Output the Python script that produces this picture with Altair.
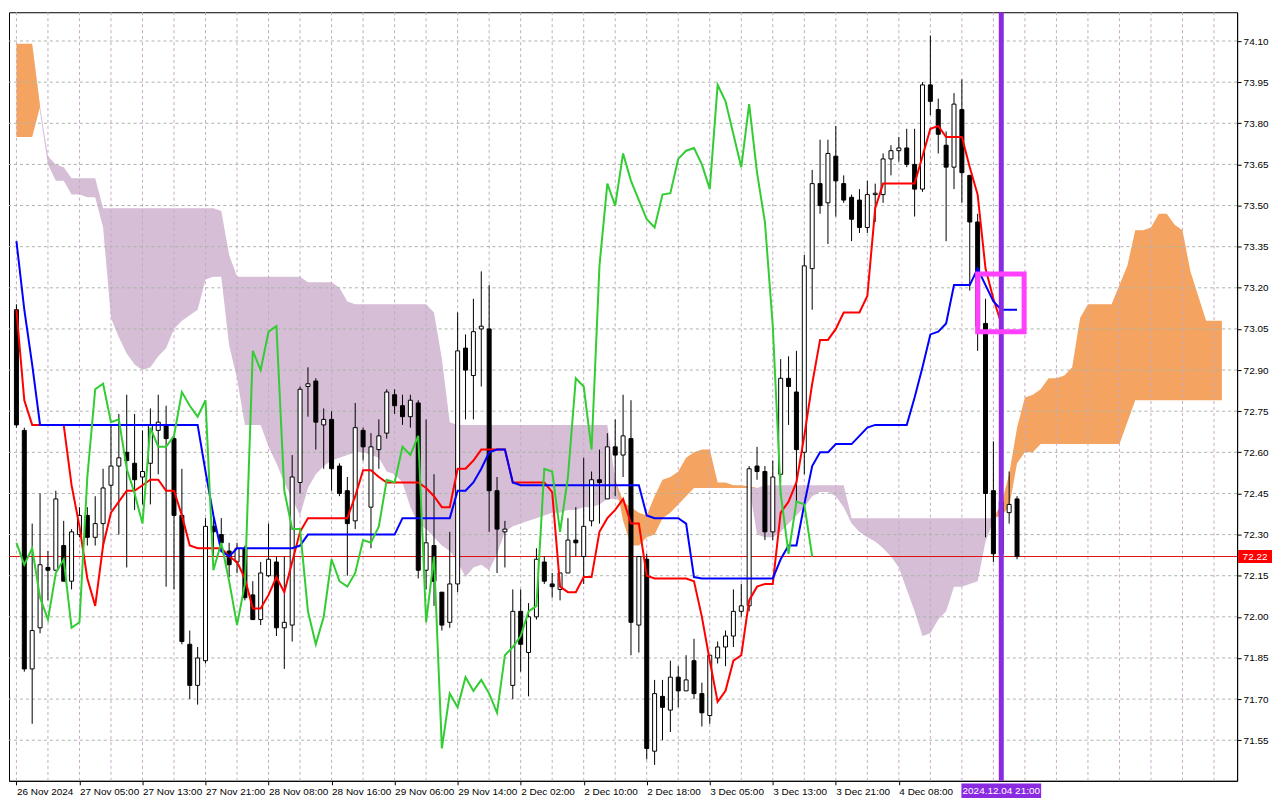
import altair as alt
import pandas as pd

# ---------------- data (hourly bars, bar 0 = 26 Nov 2024) ----------------
opens = [73.12, 72.68, 71.81, 71.96, 72.18, 72.17, 72.26, 72.13, 72.30, 72.37,
         72.29, 72.34, 72.48, 72.55, 72.60, 72.56, 72.51, 72.56, 72.68, 72.70,
         72.65, 72.37, 71.90, 71.75, 71.84, 72.33, 72.30, 72.24, 72.20, 72.25,
         72.08, 71.99, 72.15, 72.20, 71.96, 71.97, 72.49, 72.84, 72.86, 72.70,
         72.72, 72.55, 72.46, 72.35, 72.68, 72.40, 72.61, 72.67, 72.81, 72.77,
         72.73, 72.78, 72.17, 72.26, 72.09, 71.98, 72.12, 72.98, 72.88, 73.05,
         73.05, 72.46, 72.31, 71.75, 72.02, 71.87, 72.00, 72.20, 72.12, 72.10,
         72.16, 72.28, 72.22, 72.35, 72.50, 72.43, 72.62, 72.59, 72.65, 71.97,
         72.21, 71.51, 71.71, 71.66, 71.78, 71.73, 71.84, 71.72, 71.64, 71.85,
         71.89, 71.93, 72.02, 72.04, 72.55, 72.53, 72.31, 72.52, 72.87, 72.82,
         72.60, 73.27, 73.58, 73.51, 73.68, 73.58, 73.53, 73.52, 73.42, 73.54,
         73.54, 73.67, 73.70, 73.71, 73.65, 73.56, 73.94, 73.85, 73.72, 73.64,
         73.85, 73.61, 73.44, 73.07, 72.46, 72.23, 72.38, 72.43]
highs = [73.14, 72.69, 72.34, 72.45, 72.24, 72.46, 72.35, 72.32, 72.40, 72.40,
         72.44, 72.54, 72.70, 72.74, 72.81, 72.74, 72.68, 72.76, 72.81, 72.77,
         72.66, 72.54, 71.95, 71.89, 72.36, 72.37, 72.36, 72.27, 72.27, 72.26,
         72.13, 72.20, 72.34, 72.22, 72.22, 72.59, 72.84, 72.91, 72.87, 72.76,
         72.75, 72.56, 72.51, 72.78, 72.69, 72.67, 72.72, 72.83, 72.83, 72.81,
         72.81, 72.79, 72.72, 72.52, 72.09, 72.31, 73.11, 73.03, 73.16, 73.26,
         73.21, 72.51, 72.35, 72.10, 72.10, 72.05, 72.25, 72.22, 72.16, 72.16,
         72.36, 72.40, 72.58, 72.53, 72.61, 72.67, 72.72, 72.81, 72.79, 72.22,
         72.23, 71.77, 71.77, 71.84, 71.82, 71.86, 71.92, 71.76, 71.86, 71.91,
         71.95, 72.10, 72.12, 72.55, 72.62, 72.55, 72.57, 72.94, 72.95, 72.97,
         73.32, 73.63, 73.74, 73.74, 73.79, 73.61, 73.54, 73.56, 73.59, 73.58,
         73.69, 73.72, 73.75, 73.78, 73.78, 73.95, 74.12, 73.89, 73.77, 73.91,
         73.96, 73.61, 73.47, 73.16, 72.64, 72.61, 72.53, 72.44]
lows = [72.69, 71.80, 71.61, 71.94, 72.06, 72.17, 72.13, 72.10, 72.29, 72.26,
        72.26, 72.26, 72.39, 72.30, 72.18, 72.39, 72.41, 72.41, 72.52, 72.11,
        72.10, 71.90, 71.70, 71.68, 71.83, 72.22, 72.25, 72.145, 72.16, 72.06,
        71.99, 71.97, 72.145, 71.93, 71.81, 71.91, 72.45, 72.73, 72.61, 72.54,
        72.46, 72.44, 72.15, 72.32, 72.57, 72.25, 72.54, 72.65, 72.74, 72.70,
        72.69, 72.14, 72.10, 72.04, 71.95, 71.96, 72.09, 72.72, 72.72, 72.84,
        72.31, 72.16, 72.18, 71.70, 71.80, 71.71, 71.99, 72.12, 72.07, 72.06,
        72.16, 72.22, 72.12, 72.33, 72.34, 72.43, 72.44, 72.51, 71.86, 71.87,
        71.48, 71.46, 71.55, 71.58, 71.67, 71.73, 71.70, 71.60, 71.61, 71.83,
        71.82, 71.89, 72.00, 72.02, 72.50, 72.28, 72.28, 72.49, 72.70, 72.42,
        72.52, 73.12, 73.47, 73.36, 73.46, 73.51, 73.37, 73.40, 73.40, 73.44,
        73.51, 73.61, 73.66, 73.64, 73.46, 73.55, 73.83, 73.69, 73.37, 73.56,
        73.51, 73.19, 72.97, 72.29, 72.20, 72.20, 72.34, 72.21]
closes = [72.70, 71.81, 71.95, 72.19, 72.17, 72.43, 72.13, 72.31, 72.37, 72.29,
          72.34, 72.47, 72.55, 72.58, 72.57, 72.50, 72.53, 72.70, 72.71, 72.65,
          72.37, 71.91, 71.75, 71.85, 72.33, 72.31, 72.27, 72.19, 72.25, 72.07,
          71.99, 72.16, 72.21, 71.96, 71.98, 72.51, 72.83, 72.85, 72.71, 72.72,
          72.54, 72.45, 72.34, 72.69, 72.62, 72.62, 72.66, 72.82, 72.77, 72.73,
          72.79, 72.17, 72.27, 72.13, 71.97, 72.12, 72.97, 72.90, 73.04, 73.06,
          72.46, 72.32, 72.32, 72.02, 71.90, 72.00, 72.21, 72.13, 72.11, 72.16,
          72.28, 72.27, 72.33, 72.50, 72.49, 72.62, 72.59, 72.66, 71.98, 72.22,
          71.52, 71.72, 71.67, 71.78, 71.73, 71.77, 71.72, 71.65, 71.86, 71.89,
          71.93, 72.02, 72.04, 72.54, 72.53, 72.31, 72.51, 72.87, 72.84, 72.61,
          73.28, 73.58, 73.50, 73.69, 73.59, 73.52, 73.45, 73.42, 73.54, 73.545,
          73.67, 73.70, 73.71, 73.65, 73.56, 73.94, 73.88, 73.76, 73.64, 73.87,
          73.62, 73.44, 73.06, 72.45, 72.23, 72.42, 72.41, 72.22]

# Tenkan-sen (red), bars 0..125
tenkan = [73.12, 72.79, 72.70, 72.70, 72.70, 72.70, 72.70, 72.48, 72.33, 72.14,
          72.04, 72.26, 72.38, 72.42, 72.46, 72.46, 72.48, 72.50, 72.50, 72.46,
          72.46, 72.37, 72.26, 72.25, 72.25, 72.25, 72.25, 72.22, 72.20, 72.14,
          72.03, 72.03, 72.08, 72.145, 72.09, 72.20, 72.31, 72.36, 72.36, 72.36,
          72.36, 72.36, 72.36, 72.44, 72.535, 72.535, 72.51, 72.49, 72.49, 72.49,
          72.49, 72.49, 72.47, 72.44, 72.40, 72.40, 72.54, 72.54, 72.57, 72.61,
          72.61, 72.61, 72.61, 72.49, 72.49, 72.49, 72.49, 72.49, 72.455, 72.11,
          72.09, 72.09, 72.145, 72.145, 72.31, 72.36, 72.39, 72.43, 72.34, 72.34,
          72.15, 72.14, 72.14, 72.14, 72.14, 72.14, 72.13, 72.00, 71.84, 71.69,
          71.73, 71.84, 71.86, 72.06, 72.11, 72.12, 72.12, 72.38, 72.42, 72.49,
          72.66, 72.85, 73.01, 73.01, 73.05, 73.11, 73.11, 73.11, 73.17, 73.49,
          73.58, 73.58, 73.58, 73.58, 73.58, 73.68, 73.78, 73.79, 73.75, 73.75,
          73.75, 73.64, 73.54, 73.27, 73.16, 73.07]
# Kijun-sen (blue), bars 0..127
kijun = [73.37, 73.12, 72.92, 72.70, 72.70, 72.70, 72.70, 72.70, 72.70, 72.70,
         72.70, 72.70, 72.70, 72.70, 72.70, 72.70, 72.70, 72.70, 72.70, 72.70,
         72.70, 72.70, 72.70, 72.70, 72.53, 72.37, 72.24, 72.22, 72.25, 72.25,
         72.25, 72.25, 72.25, 72.25, 72.25, 72.25, 72.26, 72.30, 72.30, 72.30,
         72.30, 72.30, 72.30, 72.30, 72.30, 72.30, 72.30, 72.30, 72.30, 72.36,
         72.36, 72.36, 72.36, 72.36, 72.36, 72.36, 72.46, 72.46, 72.49, 72.54,
         72.60, 72.61, 72.61, 72.49, 72.48, 72.48, 72.48, 72.48, 72.48, 72.48,
         72.48, 72.48, 72.48, 72.48, 72.48, 72.48, 72.48, 72.48, 72.48, 72.48,
         72.37, 72.36, 72.36, 72.36, 72.36, 72.34, 72.145, 72.14, 72.14, 72.14,
         72.14, 72.14, 72.14, 72.14, 72.14, 72.14, 72.14, 72.21, 72.26, 72.26,
         72.41, 72.55, 72.60, 72.60, 72.63, 72.63, 72.63, 72.66, 72.69, 72.70,
         72.70, 72.70, 72.70, 72.70, 72.80, 72.91, 73.03, 73.04, 73.07, 73.21,
         73.21, 73.21, 73.27, 73.21, 73.15, 73.12, 73.12, 73.12]
CHIKOU_SHIFT = 26  # chikou = close plotted 26 bars back

# Senkou spans (cloud), bars 0..153
span_a = [74.09, 74.09, 74.09, 73.84, 73.65, 73.59, 73.59, 73.54, 73.54, 73.53,
          73.53, 73.42, 73.09, 73.02, 72.96, 72.92, 72.90, 72.91, 72.95, 72.98,
          73.05, 73.08, 73.10, 73.12, 73.23, 73.24, 73.24, 72.99, 72.87, 72.70,
          72.70, 72.70, 72.62, 72.56, 72.49, 72.43, 72.37, 72.47, 72.52, 72.55,
          72.57, 72.58, 72.59, 72.60, 72.60, 72.59, 72.58, 72.53, 72.52, 72.49,
          72.40, 72.34, 72.32, 72.29, 72.26, 72.24, 72.20, 72.145, 72.18, 72.19,
          72.17, 72.23, 72.31, 72.33, 72.34, 72.35, 72.36, 72.37, 72.38, 72.38,
          72.39, 72.39, 72.40, 72.40, 72.41, 72.43, 72.43, 72.42, 72.40, 72.38,
          72.37, 72.44, 72.50, 72.51, 72.53, 72.58, 72.60, 72.61, 72.61, 72.49,
          72.49, 72.48, 72.48, 72.475, 72.30, 72.29, 72.29, 72.31, 72.34, 72.37,
          72.40, 72.44, 72.455, 72.455, 72.44, 72.40, 72.34, 72.31, 72.29, 72.275,
          72.25, 72.22, 72.18, 72.10, 72.02, 71.93, 71.94, 71.99, 72.02, 72.11,
          72.11, 72.12, 72.13, 72.275, 72.35, 72.41, 72.52, 72.69, 72.80, 72.81,
          72.83, 72.87, 72.87, 72.88, 72.91, 73.09, 73.14, 73.14, 73.14, 73.14,
          73.21, 73.28, 73.41, 73.41, 73.42, 73.47, 73.47, 73.43, 73.41, 73.26,
          73.17, 73.08, 73.08, 73.08]
span_b = [73.75, 73.75, 73.75, 73.86, 73.68, 73.65, 73.64, 73.60, 73.60, 73.60,
          73.60, 73.49, 73.49, 73.49, 73.49, 73.49, 73.49, 73.49, 73.49, 73.49,
          73.49, 73.49, 73.49, 73.49, 73.49, 73.49, 73.48, 73.32, 73.24, 73.24,
          73.24, 73.24, 73.24, 73.24, 73.24, 73.24, 73.24, 73.22, 73.22, 73.22,
          73.22, 73.20, 73.15, 73.14, 73.14, 73.14, 73.14, 73.14, 73.14, 73.14,
          73.14, 73.14, 73.14, 73.11, 72.94, 72.71, 72.70, 72.70, 72.70, 72.70,
          72.70, 72.70, 72.70, 72.70, 72.70, 72.70, 72.70, 72.70, 72.70, 72.70,
          72.70, 72.70, 72.70, 72.70, 72.70, 72.70, 72.50, 72.35, 72.26, 72.26,
          72.29, 72.30, 72.36, 72.38, 72.41, 72.44, 72.47, 72.47, 72.47, 72.47,
          72.47, 72.47, 72.47, 72.47, 72.47, 72.48, 72.48, 72.48, 72.48, 72.48,
          72.48, 72.48, 72.48, 72.48, 72.48, 72.48, 72.36, 72.36, 72.36, 72.36,
          72.36, 72.36, 72.36, 72.36, 72.36, 72.36, 72.36, 72.36, 72.36, 72.36,
          72.36, 72.36, 72.36, 72.36, 72.36, 72.37, 72.40, 72.56, 72.60, 72.60,
          72.63, 72.63, 72.63, 72.63, 72.63, 72.63, 72.63, 72.63, 72.63, 72.63,
          72.63, 72.71, 72.79, 72.79, 72.79, 72.79, 72.79, 72.79, 72.79, 72.79,
          72.79, 72.79, 72.79, 72.79]

x_tick_bars = [0, 8, 16, 24, 32, 40, 48, 56, 64, 72, 80, 88, 96, 104, 112]
x_tick_labels = ["26 Nov 2024", "27 Nov 05:00", "27 Nov 13:00", "27 Nov 21:00",
                 "28 Nov 08:00", "28 Nov 16:00", "29 Nov 06:00", "29 Nov 14:00",
                 "2 Dec 02:00", "2 Dec 10:00", "2 Dec 18:00", "3 Dec 05:00",
                 "3 Dec 13:00", "3 Dec 21:00", "4 Dec 08:00"]
grid_bars = [0, 4, 8, 12, 16, 20, 24, 28, 32, 36, 40, 44, 48, 52, 56, 60, 64, 68, 72,
             76, 80, 84, 88, 92, 96, 100, 104, 108, 112, 116, 120, 124, 128, 132,
             136, 140, 144, 148, 152]
y_ticks = [71.55, 71.70, 71.85, 72.00, 72.15, 72.30, 72.45, 72.60, 72.75, 72.90,
           73.05, 73.20, 73.35, 73.50, 73.65, 73.80, 73.95, 74.10]
last_price = 72.22
marker_bar = 125
marker_label = "2024.12.04 21:00"
box_bars = [122.0, 127.9]
box_prices = [73.04, 73.25]

# ---------------- tables ----------------
n = len(opens)
candles = pd.DataFrame({"bar": list(range(n)), "o": opens, "h": highs, "l": lows, "c": closes})
tenkan_df = pd.DataFrame({"bar": list(range(len(tenkan))), "v": tenkan})
kijun_df = pd.DataFrame({"bar": list(range(len(kijun))), "v": kijun})
chikou_df = pd.DataFrame({"bar": list(range(n - CHIKOU_SHIFT)), "v": closes[CHIKOU_SHIFT:]})
cloud_df = pd.DataFrame({"bar": list(range(len(span_a))), "a": span_a, "b": span_b})
vgrid_df = pd.DataFrame({"bar": grid_bars})
hgrid_df = pd.DataFrame({"p": y_ticks})
price_df = pd.DataFrame({"p": [last_price], "t": [f"{last_price:.2f}"]})
marker_df = pd.DataFrame({"bar": [marker_bar], "t": [marker_label]})
box_df = pd.DataFrame({"x0": [box_bars[0]], "x1": [box_bars[1]],
                       "y0": [box_prices[0]], "y1": [box_prices[1]]})

W, H = 1232, 771
FONT = "Liberation Sans"
FS = 10
xs = alt.Scale(domain=[-0.31, 154.3], nice=False, zero=False)
ys = alt.Scale(domain=[71.402, 74.205], nice=False, zero=False)

labels_js = "[" + ",".join("'" + s + "'" for s in x_tick_labels) + "]"
vals_js = "[" + ",".join(str(v) for v in x_tick_bars) + "]"

x_axis = alt.Axis(values=x_tick_bars, labelExpr=f"{labels_js}[indexof({vals_js}, datum.value)]",
                  labelAlign="left", labelPadding=2, tickSize=4, tickColor="black",
                  domainColor="black", labelColor="black", labelFont=FONT, labelFontSize=FS,
                  grid=False, title=None, labelOverlap=False, labelFlush=False)
y_axis = alt.Axis(orient="right", values=y_ticks, format=".2f", tickSize=4, tickColor="black",
                  domainColor="black", labelColor="black", labelFont=FONT, labelFontSize=FS,
                  labelPadding=2, grid=False, title=None, labelOverlap=False, labelFlush=False)


def X(f):
    return alt.X(f, type="quantitative", scale=xs, axis=x_axis)


def Y(f):
    return alt.Y(f, type="quantitative", scale=ys, axis=y_axis)


pink = alt.Chart(cloud_df).transform_calculate(top="max(datum.a, datum.b)").mark_area(
    color="#d6bed6", opacity=1).encode(x=X("bar"), y=Y("a"), y2="top:Q")
orange = alt.Chart(cloud_df).transform_calculate(top="max(datum.a, datum.b)").mark_area(
    color="#f4a460", opacity=1).encode(x=X("bar"), y=Y("b"), y2="top:Q")

vgrid = alt.Chart(vgrid_df).mark_rule(color="#c6a9c6", strokeDash=[3, 3], strokeWidth=1).encode(
    x=X("bar"))
hgrid = alt.Chart(hgrid_df).mark_rule(color="#a9b5a9", strokeDash=[3, 3], strokeWidth=1).encode(
    y=Y("p"))

price_line = alt.Chart(price_df).mark_rule(color="#e01010", strokeWidth=1).encode(y=Y("p"))

wicks = alt.Chart(candles).mark_rule(color="black", strokeWidth=1).encode(
    x=X("bar"), y=Y("l"), y2="h:Q")
bodies = alt.Chart(candles).mark_bar(width=4, stroke="black", strokeWidth=1).encode(
    x=X("bar"), y=Y("o"), y2="c:Q",
    fill=alt.condition(alt.datum.c >= alt.datum.o, alt.value("white"), alt.value("black")))

tenkan_l = alt.Chart(tenkan_df).mark_line(color="#ff0000", strokeWidth=2).encode(x=X("bar"), y=Y("v"))
kijun_l = alt.Chart(kijun_df).mark_line(color="#0000ff", strokeWidth=2).encode(x=X("bar"), y=Y("v"))
chikou_l = alt.Chart(chikou_df).mark_line(color="#32cd32", strokeWidth=2).encode(x=X("bar"), y=Y("v"))

vline = alt.Chart(marker_df).mark_rule(color="#8a2be2", strokeWidth=5).encode(x=X("bar"))
box = alt.Chart(box_df).mark_rect(fillOpacity=0, stroke="#ff40ff", strokeWidth=5).encode(
    x=X("x0"), x2="x1:Q", y=Y("y0"), y2="y1:Q")

price_tag = alt.Chart(price_df).mark_point(
    shape="M-1,-0.38L1,-0.38L1,0.38L-1,0.38Z", size=34 * 34, filled=True,
    color="#ff0000", opacity=1, strokeWidth=0).encode(x=alt.value(W + 18), y=Y("p"))
price_txt = alt.Chart(price_df).mark_text(color="white", font=FONT, fontSize=FS,
                                          align="center", baseline="middle").encode(
    x=alt.value(W + 18), y=Y("p"), text="t:N")

date_tag = alt.Chart(marker_df).mark_point(
    shape="M-1,-0.18L1,-0.18L1,0.18L-1,0.18Z", size=80 * 80, filled=True,
    color="#8a2be2", opacity=1, strokeWidth=0).encode(x=X("bar"), y=alt.value(H + 10))
date_txt = alt.Chart(marker_df).mark_text(color="white", font=FONT, fontSize=FS,
                                          align="center", baseline="middle").encode(
    x=X("bar"), y=alt.value(H + 10), text="t:N")

chart = alt.layer(
    pink, orange, vgrid, hgrid, price_line, wicks, bodies,
    tenkan_l, kijun_l, chikou_l, vline, box, price_tag, price_txt, date_tag, date_txt
).properties(width=W, height=H, padding=0, background="white").configure_view(
    stroke="black", strokeWidth=1)

chart.save("out.html", embed_options={"renderer": "svg", "actions": False})
